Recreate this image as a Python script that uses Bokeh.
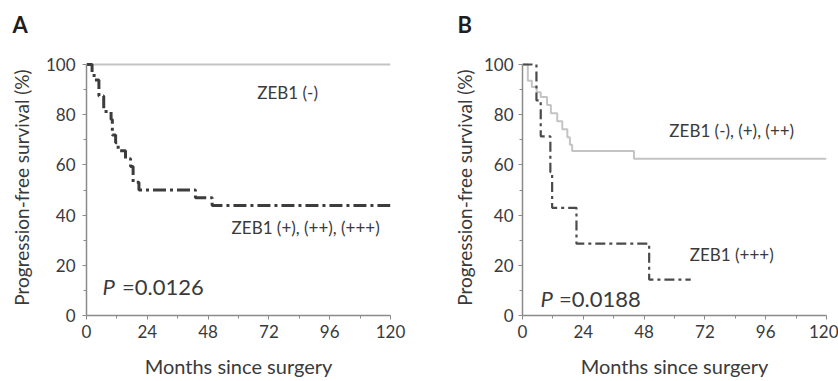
from bokeh.plotting import figure
from bokeh.models import Label, Range1d, FixedTicker, Title
from bokeh.layouts import row
from bokeh.embed import file_html
from bokeh.resources import INLINE

# ---------------- data ----------------
x_ticks = [0, 24, 48, 72, 96, 120]
x_minor = [12, 36, 60, 84, 108]
y_ticks = [0, 20, 40, 60, 80, 100]
y_minor = [10, 30, 50, 70, 90]

# Panel A
a_neg_t = [0, 120]
a_neg_s = [100, 100]
a_pos_t = [0, 2.2, 3.0, 4.9, 6.8, 9.7, 10.2, 11.5, 12.5, 15.4, 17.4, 18.4, 20.7, 43.0, 49.6, 120]
a_pos_s = [100, 96.9, 93.8, 87.5, 81.3, 78.1, 71.9, 68.8, 65.6, 62.5, 59.4, 53.1, 50.0, 46.9, 43.8, 43.8]

# Panel B
b_low_t = [0, 2.1, 3.7, 5.6, 7.2, 9.7, 11.2, 13.7, 15.7, 17.7, 18.7, 19.6, 44.0, 120]
b_low_s = [100, 93.5, 91.0, 89.0, 87.1, 83.9, 80.6, 77.4, 74.2, 71.0, 68.0, 65.5, 62.5, 62.5]
b_high_t = [0, 5.5, 7.2, 11.0, 11.7, 21.3, 50.0, 66.4]
b_high_s = [100, 85.7, 71.4, 57.1, 42.9, 28.6, 14.3, 14.3]

FONT = "Lato"
TXT = "#3a3a3a"
AX = "#8a8a8a"
GRAY = "#c4c4c4"


def make_fig(width, left, right, tick_standoff, label_standoff, letter, letter_offset):
    p = figure(width=width, height=380,
               x_range=Range1d(0, 120), y_range=Range1d(0, 102),
               output_backend="svg", toolbar_location=None,
               min_border_left=left, min_border_right=right,
               min_border_top=59, min_border_bottom=61)
    p.outline_line_color = None
    p.grid.visible = False
    p.background_fill_color = "white"
    p.border_fill_color = "white"

    # spacer (nearest the frame), then the panel letter above it
    p.add_layout(Title(text="\u00a0", text_font_size="14px", standoff=0), "above")
    p.add_layout(Title(text=letter, align="left", offset=letter_offset, standoff=8,
                       text_font=FONT, text_font_size="22px", text_font_style="bold",
                       text_color="#1e1e1e"), "above")

    p.xaxis.ticker = FixedTicker(ticks=x_ticks, minor_ticks=x_minor)
    p.yaxis.ticker = FixedTicker(ticks=y_ticks, minor_ticks=y_minor)
    p.yaxis.bounds = (0, 100)
    for ax in (p.xaxis[0], p.yaxis[0]):
        ax.axis_line_color = AX
        ax.axis_line_width = 1.5
        ax.major_tick_line_color = AX
        ax.minor_tick_line_color = AX
        ax.major_tick_out = 4
        ax.major_tick_in = 0
        ax.minor_tick_out = 3
        ax.minor_tick_in = 0
        ax.major_label_text_font = FONT
        ax.major_label_text_font_size = "17px"
        ax.major_label_text_color = TXT
        ax.axis_label_text_font = FONT
        ax.axis_label_text_font_style = "normal"
        ax.axis_label_text_color = TXT
    p.xaxis.axis_label = "Months since surgery"
    p.xaxis.axis_label_text_font_size = "20px"
    p.xaxis.major_label_standoff = 5
    p.xaxis.axis_label_standoff = 13
    p.yaxis.axis_label = "Progression-free survival (%)"
    p.yaxis.axis_label_text_font_size = "19px"
    p.yaxis.major_label_standoff = tick_standoff
    p.yaxis.axis_label_standoff = label_standoff
    return p


def lab(p, x, y, text, size="17px", align="center", style="normal"):
    p.add_layout(Label(x=x, y=y, text=text, text_font=FONT, text_font_size=size,
                       text_font_style=style, text_color=TXT,
                       text_align=align, text_baseline="middle"))


# ---------------- Panel A ----------------
pa = make_fig(428, 86, 38, 7, 10, "A", -74)
pa.step(a_neg_t, a_neg_s, mode="after", line_color=GRAY, line_width=2)
pa.step(a_pos_t, a_pos_s, mode="after", line_color="#3c3c3c", line_width=3,
        line_dash="13 4 3 4")
lab(pa, 79.4, 89.0, "ZEB1 (-)")
lab(pa, 86.5, 34.9, "ZEB1 (+), (++), (+++)")
lab(pa, 6.3, 11.4, "P", size="22px", align="left", style="italic")
lab(pa, 14.0, 11.4, "=0.0126", size="22px", align="left")

# ---------------- Panel B ----------------
pb = make_fig(410, 94, 12, 5, 5, "B", -65)
pb.step(b_low_t, b_low_s, mode="after", line_color=GRAY, line_width=2)
pb.step(b_high_t, b_high_s, mode="after", line_color="#4a4a4a", line_width=2.2,
        line_dash="10 4 3 4")
lab(pb, 82.6, 73.6, "ZEB1 (-), (+), (++)")
lab(pb, 82.6, 24.4, "ZEB1 (+++)")
lab(pb, 7.1, 6.7, "P", size="22px", align="left", style="italic")
lab(pb, 14.4, 6.7, "=0.0188", size="22px", align="left")

layout = row(pa, pb)
open("out.html", "w").write(file_html(layout, INLINE))
